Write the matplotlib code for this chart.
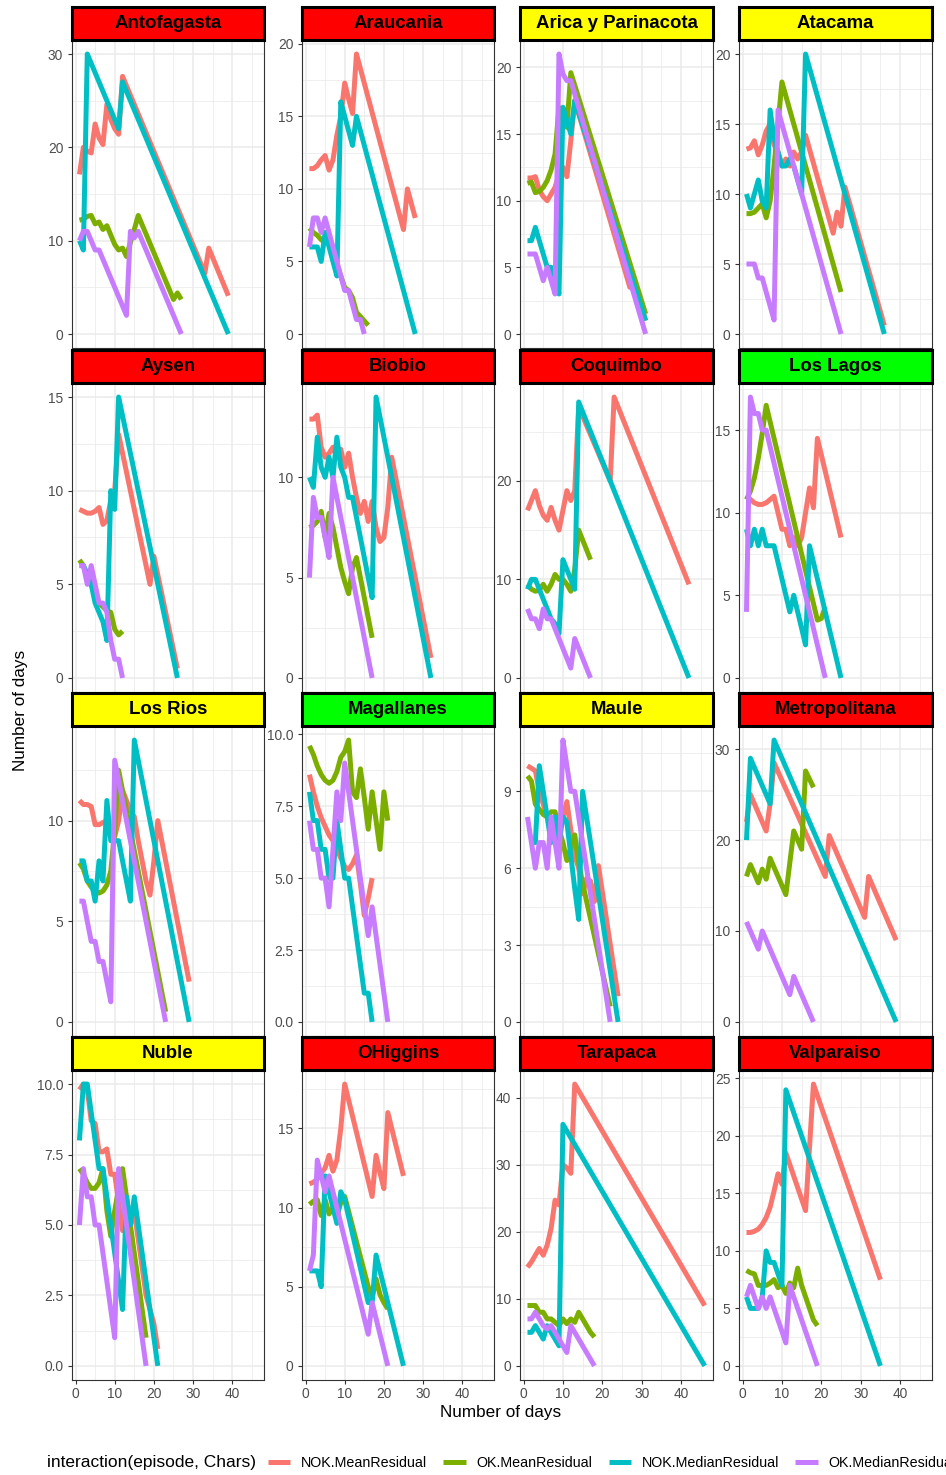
import matplotlib
matplotlib.use("Agg")
import matplotlib.pyplot as plt
from matplotlib.lines import Line2D
import numpy as np

plt.rcParams['font.family'] = ['Liberation Sans', 'DejaVu Sans']

# ---------------- data ----------------
SERIES = ["NOK.MeanResidual", "OK.MeanResidual", "NOK.MedianResidual", "OK.MedianResidual"]
COLORS = ["#F8766D", "#7CAE00", "#00BFC4", "#C77CFF"]

REGIONS = ["Antofagasta", "Araucania", "Arica y Parinacota", "Atacama",
           "Aysen", "Biobio", "Coquimbo", "Los Lagos",
           "Los Rios", "Magallanes", "Maule", "Metropolitana",
           "Nuble", "OHiggins", "Tarapaca", "Valparaiso"]
STRIP_COLORS = ["#FF0000", "#FF0000", "#FFFF00", "#FFFF00",
                "#FF0000", "#FF0000", "#FF0000", "#00FF00",
                "#FFFF00", "#00FF00", "#FFFF00", "#FF0000",
                "#FFFF00", "#FF0000", "#FF0000", "#FF0000"]

antofagasta = {
    "NOK.MeanResidual": ([1,2,3,4,5,6,7,8,9,10,11,12,33,34,39],
                         [17.1,20,19.6,19.4,22.5,21,20.3,24.6,23,22,21.4,27.6,6.5,9.2,4.1]),
    "OK.MeanResidual": ([1,2,3,4,5,6,7,8,9,10,11,12,13,14,15,16,25,26,27],
                        [12.2,12.3,12.6,12.7,11.8,12.0,11.2,11.6,10.6,9.6,9.0,9.2,8.3,9.8,11.2,12.7,3.7,4.4,3.7]),
    "NOK.MedianResidual": ([1,2,3,11,12,39], [10,9,30,22,27,0]),
    "OK.MedianResidual": ([1,2,3,4,5,6,13,14,15,16,27], [10,11,11,10,9,9,2,11,10.3,11,0]),
}
araucania = {
    "NOK.MeanResidual": ([1,2,3,4,5,6,7,8,9,10,11,12,13,25,26,27,28],
                         [11.4,11.4,11.6,12.0,12.3,11.3,12.0,13.7,15.0,17.3,16.2,15.2,19.3,7.2,10.0,9.0,8.0]),
    "OK.MeanResidual": ([1,2,3,4,5,6,7,8,9,10,11,12,13,14,15,16],
                        [7.3,7.0,6.8,6.5,6.3,6.8,5.5,4.8,4.0,3.2,3.0,2.5,1.5,1.2,0.9,0.6]),
    "NOK.MedianResidual": ([1,2,3,4,5,6,7,8,9,10,11,12,13,28],
                           [6,6,6,5,7,6,5,4,16,15,14,13,15,0]),
    "OK.MedianResidual": ([1,2,3,4,5,6,7,8,9,10,11,12,13,14,15],
                          [6,8,8,7,8,7,6,5,4,3,3,2,1,1,0]),
}
arica = {
    "NOK.MeanResidual": ([1,2,3,4,5,6,7,8,9,10,11,12,13,27,28,31],
                         [11.7,11.7,11.8,10.8,10.3,10.0,10.5,11.0,12.0,12.5,11.8,14.5,17.5,3.5,4.0,1.0]),
    "OK.MeanResidual": ([1,2,3,4,5,6,7,8,9,10,11,12,31],
                        [11.3,11.4,10.6,10.7,11.0,11.5,12.3,13.5,17.0,16.0,15.5,19.6,1.5]),
    "NOK.MedianResidual": ([1,2,3,4,5,6,7,8,9,10,11,12,13,31],
                           [7,7,8,7,6,5,5,4,3,17,16,15,17.5,1]),
    "OK.MedianResidual": ([1,2,3,4,5,6,7,8,9,10,11,12,31],
                          [6,6,6,5,4,5,4,3,21,19.5,19,19,0]),
}
atacama = {
    "NOK.MeanResidual": ([1,2,3,4,5,6,7,8,9,10,11,12,13,14,15,16,23,24,25,26,36],
                         [13.2,13.3,13.8,12.8,13.5,14.5,15.0,13.5,13.0,12.0,12.5,12.0,13.0,12.5,13.0,14.2,7.2,8.7,7.7,10.5,0.6]),
    "OK.MeanResidual": ([1,2,3,4,5,6,7,8,9,10,11,25],
                        [8.6,8.6,8.7,9.0,9.3,8.3,9.5,12,15,18,17,3]),
    "NOK.MedianResidual": ([1,2,3,4,5,6,7,8,9,10,11,12,13,14,15,16,36],
                           [10,9,10,11,9.5,9,16,14,13,12,12,12.5,12,11,10,20,0]),
    "OK.MedianResidual": ([1,2,3,4,5,6,7,8,9,25], [5,5,5,4,4,3,2,1,16,0]),
}
aysen = {
    "NOK.MeanResidual": ([1,2,3,4,5,6,7,8,9,10,11,19,20,26],
                         [9.0,8.9,8.8,8.8,8.9,9.1,8.2,8.4,9.5,10.0,13.0,5.0,6.5,0.5]),
    "OK.MeanResidual": ([1,2,3,4,5,6,7,8,9,10,11,12],
                        [6.3,6.0,5.5,5.0,4.5,4.0,3.8,3.6,3.5,2.6,2.3,2.5]),
    "NOK.MedianResidual": ([1,2,3,4,5,6,7,8,9,10,11,26],
                           [6,6,5.5,5,4,3.5,3,2,10,9,15,0]),
    "OK.MedianResidual": ([1,2,3,4,5,6,7,8,9,10,11,12],
                          [6,6,5,6,5,4,4,3.5,2,1,1,0]),
}
biobio = {
    "NOK.MeanResidual": ([1,2,3,4,5,6,7,8,9,10,11,12,13,14,15,16,17,18,19,20,21,22,32],
                         [12.9,12.9,13.1,11.5,11.0,11.2,11.5,11.0,11.4,10.5,11.2,10.0,9.0,8.2,8.8,7.8,8.8,7.5,6.8,7.0,8.5,11.0,1.0]),
    "OK.MeanResidual": ([1,2,3,4,5,6,7,8,9,10,11,12,13,14,15,16,17],
                        [7.5,7.6,7.8,8.3,7.0,8.2,7.5,6.5,5.5,4.8,4.2,5.5,6.0,5.0,4.0,3.0,2.0]),
    "NOK.MedianResidual": ([1,2,3,4,5,6,7,8,9,10,11,12,13,14,15,16,17,18,32],
                           [10,9.5,12,10.5,10,11,10,12,10.5,10,9,9,8,7,6,5,4,14,0]),
    "OK.MedianResidual": ([1,2,3,4,5,6,7,17], [5,9,8,8,7,6,10,0]),
}
coquimbo = {
    "NOK.MeanResidual": ([1,2,3,4,5,6,7,8,9,10,11,12,13,14,22,23,42],
                         [17,18,19,17.5,16.5,16,17.3,16,15,17,19,18,19,27.5,20,28.5,9.5]),
    "OK.MeanResidual": ([1,2,3,4,5,6,7,8,9,10,11,12,13,14,15,16,17],
                        [9.5,9.0,8.8,8.9,9.5,8.8,9.5,10.5,10,10,9.5,8.8,11,15,14,13,12]),
    "NOK.MedianResidual": ([1,2,3,4,5,6,7,8,9,10,11,12,13,14,42],
                           [9,10,10,9,8,7,6,5.5,4.5,12,11,10,9,28,0]),
    "OK.MedianResidual": ([1,2,3,4,5,6,7,8,9,10,11,12,13,14,15,16,17],
                          [7,6,6,5,7,6,6,5,4,3,2,1,4,3,2,1,0]),
}
los_lagos = {
    "NOK.MeanResidual": ([1,2,3,4,5,6,7,8,9,10,11,12,13,14,15,16,17,18,19,25],
                         [11,10.8,10.6,10.5,10.5,10.6,10.8,11,10,9,9,8,8.5,8,8.5,10,11.5,10.3,14.5,8.5]),
    "OK.MeanResidual": ([1,2,3,4,5,6,19,20,21],
                        [10.8,11.3,12.1,13.3,14.8,16.5,3.5,3.6,4.3]),
    "NOK.MedianResidual": ([1,2,3,4,5,6,7,8,9,10,11,12,13,14,15,16,17,25],
                           [9,8,9,8,9,8,8,8,7,6,5,4,5,4,3,2,8,0]),
    "OK.MedianResidual": ([1,2,3,4,5,6,21], [4,17,16,16,15,15,0]),
}
los_rios = {
    "NOK.MeanResidual": ([1,2,3,4,5,6,7,8,9,10,11,12,13,14,15,16,17,18,19,20,21,29],
                         [11,10.8,10.8,10.7,9.8,9.8,9.9,10.0,9.3,9.2,10,11.5,11,10.5,10.2,9,8,7,6.3,8,10,2]),
    "OK.MeanResidual": ([1,2,3,4,5,6,7,8,9,10,11,23],
                        [7.9,7.6,7.0,6.7,6.5,6.4,6.5,6.8,7.5,9.5,12.5,0.5]),
    "NOK.MedianResidual": ([1,2,3,4,5,6,7,8,9,10,11,12,13,14,15,29],
                           [8,8,7,7,6,8,7,11,9,9,9,8,7,6,14,0]),
    "OK.MedianResidual": ([1,2,3,4,5,6,7,8,9,10,23], [6,6,5,4,4,3,3,2,1,13,0]),
}
magallanes = {
    "NOK.MeanResidual": ([1,2,3,4,5,6,7,8,9,10,11,12,13,14,15,16,17],
                         [8.6,8.0,7.5,7.1,6.8,6.5,6.3,6.0,5.7,5.4,5.3,5.5,5.8,4.8,3.7,4.3,5.0]),
    "OK.MeanResidual": ([1,2,3,4,5,6,7,8,9,10,11,12,13,14,15,16,17,18,19,20,21],
                        [9.6,9.3,8.9,8.6,8.4,8.3,8.4,8.7,9.2,9.4,9.8,8.0,7.8,8.8,7.8,6.7,8.0,7.0,6.0,8.0,7.0]),
    "NOK.MedianResidual": ([1,2,3,4,5,6,7,8,9,10,11,15,16,17],
                           [8,7,7,6,6,5,5,7,6,5,5,1,1,0]),
    "OK.MedianResidual": ([1,2,3,4,5,6,7,8,9,10,16,17,21],
                          [7,6,6,5,5,4,6,8,7,9,3,4,0]),
}
maule = {
    "NOK.MeanResidual": ([1,2,3,4,5,6,7,8,9,10,11,12,13,14,15,16,17,18,19,24],
                         [10,9.9,9.8,9.0,8.5,8.0,7.8,7.5,7.5,8.0,8.6,7.5,6.5,6.0,5.0,5.6,5.5,4.7,6.1,1.0]),
    "OK.MeanResidual": ([1,2,3,4,5,6,7,8,9,10,11,12,13,14,15,22],
                        [9.6,9.4,8.5,8.3,8.1,8.0,8.2,8.2,7.5,7.0,6.3,6.8,7.3,6.2,5.4,0.6]),
    "NOK.MedianResidual": ([2,3,4,5,6,7,8,9,10,11,12,13,14,15,24],
                           [7,7,10,9,8,7,8,7,8,7.8,6.5,5.2,4,9,0]),
    "OK.MedianResidual": ([1,2,3,4,5,6,7,8,9,10,11,12,13,22],
                          [8,7,6,7,7,6,8,7,6,11,10,9,9,0]),
}
metropolitana = {
    "NOK.MeanResidual": ([1,2,3,4,5,6,7,8,21,22,31,32,39],
                         [22,25,24,23,22,21,24,28.5,16,20.5,11.5,16,9]),
    "OK.MeanResidual": ([1,2,3,4,5,6,7,8,9,10,11,12,13,14,15,16,17,18],
                        [16,17.3,16.3,15.3,16.8,15.7,18,17,16,15,14,17.5,21,20,19,27.6,26.7,25.8]),
    "NOK.MedianResidual": ([1,2,7,8,39], [20,29,24,31,0]),
    "OK.MedianResidual": ([1,2,3,4,5,12,13,18], [11,10,9,8,10,3,5,0]),
}
nuble = {
    "NOK.MeanResidual": ([1,2,3,4,5,6,7,8,9,10,11,12,13,14,15,16,17,18,19,20,21],
                         [9.8,10,9.8,8.7,8.6,7.6,7.6,7.7,6.8,6.8,5.8,4.8,6,5,5.5,4.5,3.5,2.5,2,1.5,0.6]),
    "OK.MeanResidual": ([1,2,3,4,5,6,7,8,9,10,11,12,18],
                        [7.0,6.8,6.5,6.3,6.3,6.5,7.0,5.5,4.6,5.5,6.3,7.0,1.0]),
    "NOK.MedianResidual": ([1,2,3,4,5,6,7,8,9,10,11,12,13,14,15,21],
                           [8,10,10,9,8,7,7,6,5,4,3,2,6,5,6,0]),
    "OK.MedianResidual": ([1,2,3,4,5,6,7,8,9,10,11,18],
                          [5,7,6,6,5,5,4,3,2,1,7,0]),
}
ohiggins = {
    "NOK.MeanResidual": ([1,2,3,4,5,6,7,8,9,10,17,18,19,20,21,25],
                         [11.5,11.6,11.8,12.2,12.5,13.3,12.3,13,15,17.8,10.7,13.3,12.2,11.2,16,12]),
    "OK.MeanResidual": ([1,2,3,4,5,6,7,8,9,10,16,17,18,19,20,21],
                        [10.2,10.4,10.5,9.5,10.5,9.6,10.0,9.5,10.3,10.7,5.0,4.3,5.5,4.5,4.0,3.6]),
    "NOK.MedianResidual": ([1,2,3,4,5,6,7,8,9,10,16,17,18,25],
                           [6,6,6,5,12,11,10,9,11,10.5,4,4,7,0]),
    "OK.MedianResidual": ([1,2,3,4,5,6,7,16,17,21], [6,7,13,12,11,12,11,2,4,0]),
}
tarapaca = {
    "NOK.MeanResidual": ([1,2,3,4,5,6,7,8,9,10,11,12,13,46],
                         [14.7,15.5,16.5,17.5,16.5,18,20.5,24.7,24,30,29.5,28.7,42,9]),
    "OK.MeanResidual": ([1,2,3,4,5,6,7,8,9,10,11,12,13,14,15,16,17,18],
                        [9,9,9,8,8,7,7,6.5,6,7,6.3,7,6.5,8,7,6,5,4.3]),
    "NOK.MedianResidual": ([1,2,3,4,5,6,7,8,9,10,46], [5,5,6,5,4,6,5,4,3,36,0]),
    "OK.MedianResidual": ([1,2,3,4,5,6,7,8,9,10,11,12,18],
                          [7,7,8,7,6,5.5,6,5,4,3,2,6,0]),
}
valparaiso = {
    "NOK.MeanResidual": ([1,2,3,4,5,6,7,8,9,10,11,16,17,18,35],
                         [11.6,11.6,11.7,11.9,12.3,12.9,13.8,15.2,16.7,15.8,18.5,13.5,19,24.5,7.5]),
    "OK.MeanResidual": ([1,2,3,4,5,6,7,8,9,10,11,12,13,14,15,16,17,18,19],
                        [8.3,8.1,8.0,7,7,7,7.2,7.5,6.8,7,6.3,7.2,6.8,8.5,7,6,5,4,3.5]),
    "NOK.MedianResidual": ([1,2,3,4,5,6,7,8,9,10,11,35], [6,5,5,5,6,10,9,9,8,7,24,0]),
    "OK.MedianResidual": ([1,2,3,4,5,6,7,8,9,10,11,12,19],
                          [6,7,6,5,6,5,6,5,4,3,2,7,0]),
}

PANEL_DATA = [antofagasta, araucania, arica, atacama,
              aysen, biobio, coquimbo, los_lagos,
              los_rios, magallanes, maule, metropolitana,
              nuble, ohiggins, tarapaca, valparaiso]

Y_TICKS = [[0,10,20,30], [0,5,10,15,20], [0,5,10,15,20], [0,5,10,15,20],
           [0,5,10,15], [0,5,10], [0,10,20], [0,5,10,15],
           [0,5,10], [0,2.5,5,7.5,10], [0,3,6,9], [0,10,20,30],
           [0,2.5,5,7.5,10], [0,5,10,15], [0,10,20,30,40], [0,5,10,15,20,25]]
X_TICKS = [0, 10, 20, 30, 40]

# ---------------- layout ----------------
W, H = 946, 1475
fig = plt.figure(figsize=(W/100, H/100), dpi=100)

COLS = [(72, 264), (302, 494), (520, 713), (739, 932)]
ROWS = [(40, 348), (383, 692), (726, 1036), (1070, 1380)]
STRIP_H = 33
XLIM = (-0.9, 48.1)
GRID_C = "#EBEBEB"
TICK_C = "#4D4D4D"

def rect(l, t, r, b):
    return [l / W, 1 - b / H, (r - l) / W, (b - t) / H]

for i, (name, data) in enumerate(zip(REGIONS, PANEL_DATA)):
    r, c = divmod(i, 4)
    l, rr = COLS[c]
    t, b = ROWS[r]
    ax = fig.add_axes(rect(l, t, rr, b))
    for s, col in zip(SERIES, COLORS):
        xs, ys = data[s]
        ax.plot(xs, ys, color=col, lw=3.6, solid_capstyle='butt',
                solid_joinstyle='round', zorder=3)
    ax.set_xlim(*XLIM)
    ax.margins(y=0.05)
    ax.autoscale(axis='y')
    y0, y1 = ax.get_ylim()
    yt = Y_TICKS[i]
    step = yt[1] - yt[0]
    ax.set_yticks(yt)
    if any(isinstance(v, float) and v != int(v) for v in yt):
        ax.set_yticklabels([f"{v:.1f}" for v in yt])
    else:
        ax.set_yticklabels([f"{v:g}" for v in yt])
    minors = np.arange(yt[0] - step / 2, y1 + step, step)
    minors = [m for m in minors if y0 < m < y1]
    ax.set_yticks(minors, minor=True)
    ax.set_xticks(X_TICKS)
    ax.set_xticks([5, 15, 25, 35, 45], minor=True)
    ax.set_ylim(y0, y1)
    ax.set_facecolor("white")
    ax.grid(True, which='major', color=GRID_C, lw=1.1, zorder=0)
    ax.grid(True, which='minor', color=GRID_C, lw=0.55, zorder=0)
    ax.set_axisbelow(True)
    for sp in ax.spines.values():
        sp.set_color("#333333")
        sp.set_linewidth(0.8)
    ax.tick_params(axis='y', which='major', length=2.8, width=0.8, color="#333333",
                   labelsize=9.9, labelcolor=TICK_C, pad=3.5)
    ax.tick_params(which='minor', length=0)
    if r == 3:
        ax.tick_params(axis='x', which='major', length=2.8, width=0.8, color="#333333",
                       labelsize=9.9, labelcolor=TICK_C, pad=2.5)
    else:
        ax.tick_params(axis='x', which='major', length=0, labelbottom=False)
    # strip
    sax = fig.add_axes(rect(l, t - STRIP_H, rr, t))
    sax.set_facecolor(STRIP_COLORS[i])
    sax.set_xticks([]); sax.set_yticks([])
    for sp in sax.spines.values():
        sp.set_color("black")
        sp.set_linewidth(2.2)
    sax.text(0.5, 0.5, name, ha='center', va='center', fontsize=13.4,
             fontweight='bold', color='black', transform=sax.transAxes)

fig.text(501 / W, 1 - 1413 / H, "Number of days", ha='center', va='center', fontsize=12.3)
fig.text(20 / W, 1 - 710 / H, "Number of days", ha='center', va='center',
         rotation=90, fontsize=12.3)

# legend
fig.text(47 / W, 1 - 1463 / H, "interaction(episode, Chars)", ha='left', va='center',
         fontsize=12.5)
handles = [Line2D([], [], color=c, lw=3.6, solid_capstyle='butt') for c in COLORS]
fig.legend(handles, SERIES, ncol=4, loc='center left',
           bbox_to_anchor=(268 / W, 1 - 1463 / H), frameon=False,
           fontsize=10.3, handlelength=1.55, handletextpad=0.78,
           columnspacing=1.12, borderpad=0, borderaxespad=0)

fig.savefig("out.png", dpi=100)
